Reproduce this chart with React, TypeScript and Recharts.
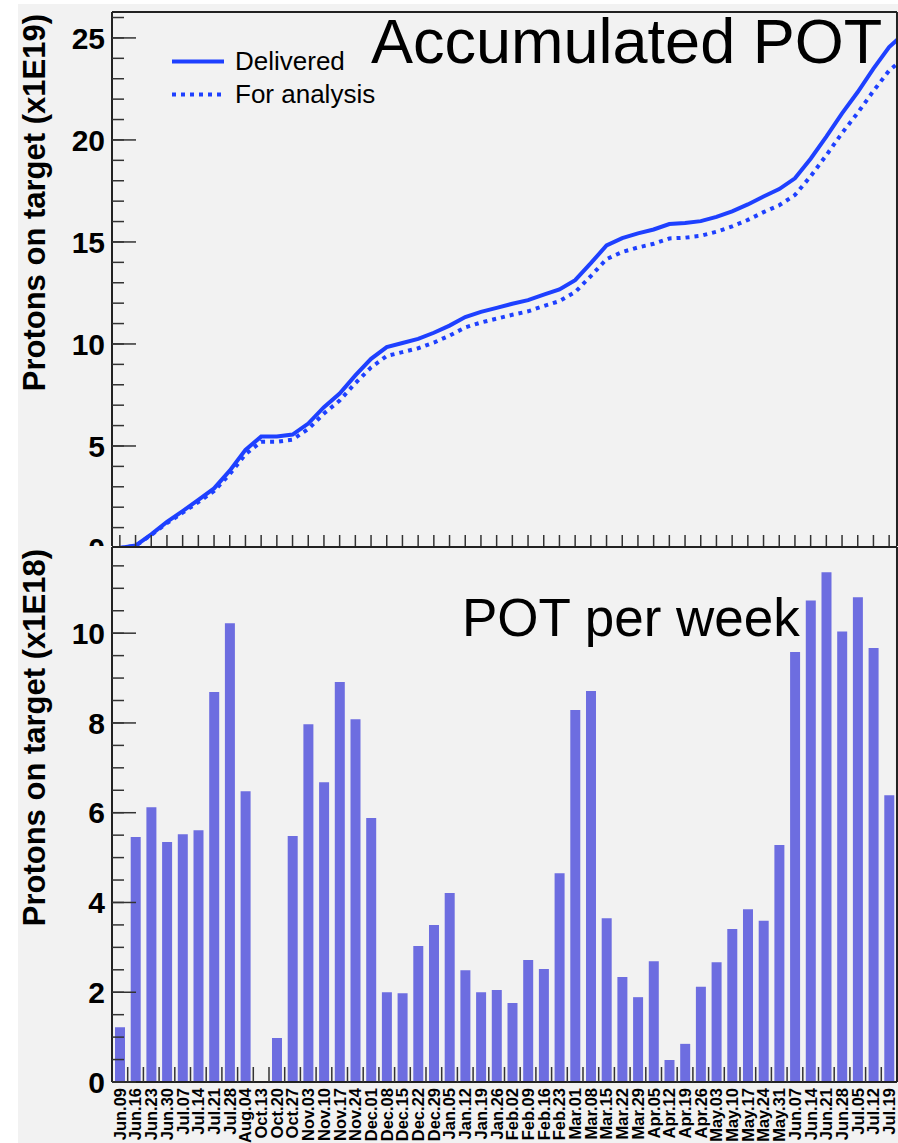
import React from "react";
import { LineChart, Line, ComposedChart, Bar, XAxis, YAxis, Legend } from "recharts";

const weeks = [
  "Jun.09", "Jun.16", "Jun.23", "Jun.30", "Jul.07", "Jul.14", "Jul.21", "Jul.28", "Aug.04", "Oct.13",
  "Oct.20", "Oct.27", "Nov.03", "Nov.10", "Nov.17", "Nov.24", "Dec.01", "Dec.08", "Dec.15", "Dec.22",
  "Dec.29", "Jan.05", "Jan.12", "Jan.19", "Jan.26", "Feb.02", "Feb.09", "Feb.16", "Feb.23", "Mar.01",
  "Mar.08", "Mar.15", "Mar.22", "Mar.29", "Apr.05", "Apr.12", "Apr.19", "Apr.26", "May.03", "May.10",
  "May.17", "May.24", "May.31", "Jun.07", "Jun.14", "Jun.21", "Jun.28", "Jul.05", "Jul.12", "Jul.19",
];

// protons on target per week (x1E18)
const potPerWeek = [
  1.22, 5.46, 6.12, 5.35, 5.52, 5.61, 8.69, 10.22, 6.48, 0,
  0.98, 5.48, 7.97, 6.68, 8.91, 8.08, 5.88, 2.0, 1.98, 3.03,
  3.5, 4.21, 2.49, 2.0, 2.05, 1.76, 2.72, 2.52, 4.65, 8.29,
  8.71, 3.65, 2.34, 1.89, 2.69, 0.49, 0.85, 2.12, 2.67, 3.41,
  3.85, 3.59, 5.28, 9.58, 10.73, 11.36, 10.04, 10.8, 9.67, 6.39,
];

// accumulated POT (x1E19), one point per week
const accDelivered = [
  0, 0.12, 0.67, 1.28, 1.81, 2.36, 2.92, 3.79, 4.81, 5.46,
  5.46, 5.56, 6.1, 6.9, 7.57, 8.46, 9.27, 9.85, 10.05, 10.25,
  10.55, 10.9, 11.32, 11.57, 11.77, 11.97, 12.15, 12.42, 12.67, 13.13,
  13.96, 14.83, 15.19, 15.42, 15.61, 15.88, 15.93, 16.02, 16.23, 16.5,
  16.84, 17.23, 17.59, 18.12, 19.08, 20.16, 21.3, 22.35, 23.5, 24.55,
  25.25,
];
const accAnalysis = [
  0, 0.11, 0.64, 1.22, 1.73, 2.25, 2.79, 3.62, 4.59, 5.21,
  5.21, 5.31, 5.83, 6.59, 7.23, 8.08, 8.85, 9.41, 9.6, 9.79,
  10.07, 10.41, 10.81, 11.05, 11.24, 11.43, 11.6, 11.86, 12.1, 12.54,
  13.33, 14.16, 14.51, 14.73, 14.91, 15.17, 15.21, 15.3, 15.5, 15.76,
  16.08, 16.46, 16.8, 17.3, 18.22, 19.25, 20.34, 21.33, 22.4, 23.4,
  24.05,
];

const accTicks = [0, 5, 10, 15, 20, 25];
const accMinorTicks = [0, 1, 2, 3, 4, 5, 6, 7, 8, 9, 10, 11, 12, 13, 14, 15, 16, 17, 18, 19, 20, 21, 22, 23, 24, 25, 26];
const weekTicks = [0, 2, 4, 6, 8, 10];
const weekMinorTicks = [0, 0.5, 1, 1.5, 2, 2.5, 3, 3.5, 4, 4.5, 5, 5.5, 6, 6.5, 7, 7.5, 8, 8.5, 9, 9.5, 10, 10.5, 11, 11.5];

const FONT = "'Liberation Sans', Arial, Helvetica, sans-serif";
const BLUE = "#1e40ff";
const BAR = "#6d6de0";
const BG = "#f2f2f2";
const frame = { stroke: "#222", strokeWidth: 2 };
const tickStroke = { stroke: "#333", strokeWidth: 1.5 };
const tickFont = { fontSize: 30, fontWeight: "bold", fill: "#000", fontFamily: FONT };
const THIN = 0.01; // axes of (almost) no size, only there for ticks and frame

const accData = accDelivered.map((v, i) => ({ pos: i + 0.5, delivered: v, analysis: accAnalysis[i] }));
const weekData = weeks.map((w, i) => ({ week: w, idx: i + 0.5, pot: potPerWeek[i] }));
const centerTicks = weeks.map((_, i) => i + 0.5);
const edgeTicks = [0, ...weeks.map((_, i) => i + 1)];

const noTick = () => <g />;

// invisible series so that the extra tick / frame axes get a domain
const ghost = { stroke: "none", dot: false, activeDot: false, legendType: "none" as const, isAnimationActive: false };

const WeekTick = (props: any) => {
  const { x, y, payload } = props;
  return (
    <text
      x={x}
      y={y}
      transform={`rotate(-90 ${x} ${y})`}
      textAnchor="end"
      dy="0.36em"
      fontSize={16.5}
      fontWeight="bold"
      fontFamily={FONT}
      fill="#000"
    >
      {payload.value}
    </text>
  );
};

const LegendBox = (props: any) => {
  const { payload = [] } = props;
  return (
    <div style={{ fontFamily: FONT, fontSize: 26, color: "#000" }}>
      {payload
        .filter((p: any) => p.type !== "none")
        .map((p: any) => (
          <div key={p.value} style={{ display: "flex", alignItems: "center", height: 33 }}>
            <svg width={69} height={33}>
              <line
                x1={6}
                x2={58}
                y1={16.5}
                y2={16.5}
                stroke={BLUE}
                strokeWidth={4}
                strokeDasharray={p.payload?.strokeDasharray}
              />
            </svg>
            <span>{p.value}</span>
          </div>
        ))}
    </div>
  );
};

export default function App() {
  return (
    <div style={{ position: "absolute", left: 0, top: 0, width: 898, height: 1143, background: "#fff", overflow: "hidden" }}>
      <div style={{ position: "absolute", left: 18, top: 4, width: 880, height: 1139, background: BG }} />

      <div style={{ position: "absolute", left: 0, top: 0 }}>
        <LineChart width={898} height={548} data={accData} margin={{ top: 12, right: 1, bottom: 0, left: 0 }}>
          <XAxis
            xAxisId="x"
            type="number"
            dataKey="pos"
            domain={[0, 50]}
            allowDataOverflow
            ticks={centerTicks}
            interval={0}
            mirror
            height={THIN}
            tick={noTick}
            tickSize={13}
            tickLine={tickStroke}
            axisLine={frame}
          />
          <XAxis xAxisId="top" orientation="top" type="number" dataKey="pos" domain={[0, 50]} allowDataOverflow height={THIN} tick={false} tickLine={false} axisLine={frame} />
          <YAxis
            yAxisId="y"
            type="number"
            domain={[0, 26.27]}
            allowDataOverflow
            ticks={accTicks}
            interval={0}
            width={112}
            tickSize={0}
            tickMargin={7}
            tickLine={false}
            tick={tickFont}
            axisLine={frame}
          />
          <YAxis yAxisId="minor" type="number" domain={[0, 26.27]} allowDataOverflow ticks={accMinorTicks} interval={0} mirror width={THIN} tick={noTick} tickSize={12} tickLine={tickStroke} axisLine={false} />
          <YAxis yAxisId="major" type="number" domain={[0, 26.27]} allowDataOverflow ticks={accTicks} interval={0} mirror width={THIN} tick={noTick} tickSize={24} tickLine={tickStroke} axisLine={false} />
          <YAxis yAxisId="right" orientation="right" type="number" domain={[0, 26.27]} allowDataOverflow width={THIN} tick={false} tickLine={false} axisLine={frame} />
          <Line xAxisId="top" yAxisId="minor" dataKey="delivered" {...ghost} />
          <Line xAxisId="x" yAxisId="major" dataKey="delivered" {...ghost} />
          <Line xAxisId="x" yAxisId="right" dataKey="delivered" {...ghost} />
          <Line xAxisId="x" yAxisId="y" type="linear" dataKey="delivered" name="Delivered" stroke={BLUE} strokeWidth={4} dot={false} isAnimationActive={false} />
          <Line xAxisId="x" yAxisId="y" type="linear" dataKey="analysis" name="For analysis" stroke={BLUE} strokeWidth={4} strokeDasharray="4 5" dot={false} isAnimationActive={false} />
          <Legend
            layout="vertical"
            align="center"
            verticalAlign="middle"
            content={<LegendBox />}
            wrapperStyle={{ left: 166, top: 45, width: 260 }}
          />
        </LineChart>
      </div>

      <div style={{ position: "absolute", left: 18, top: 546, width: 880, height: 597, background: BG }}>
        <ComposedChart width={880} height={597} data={weekData} margin={{ top: 1, right: 1, bottom: 0, left: 0 }} barSize={10}>
          <XAxis dataKey="week" interval={0} height={61} tickSize={0} tickMargin={6} tickLine={false} tick={<WeekTick />} axisLine={frame} />
          <XAxis xAxisId="edges" type="number" dataKey="idx" domain={[0, 50]} allowDataOverflow ticks={edgeTicks} interval={0} mirror height={THIN} tick={noTick} tickSize={15} tickLine={tickStroke} axisLine={false} />
          <XAxis xAxisId="top" orientation="top" type="number" dataKey="idx" domain={[0, 50]} allowDataOverflow height={THIN} tick={false} tickLine={false} axisLine={frame} />
          <YAxis
            yAxisId="y"
            type="number"
            domain={[0, 11.92]}
            allowDataOverflow
            ticks={weekTicks}
            interval={0}
            width={94}
            tickSize={0}
            tickMargin={7}
            tickLine={false}
            tick={tickFont}
            axisLine={frame}
          />
          <YAxis yAxisId="minor" type="number" domain={[0, 11.92]} allowDataOverflow ticks={weekMinorTicks} interval={0} mirror width={THIN} tick={noTick} tickSize={12} tickLine={tickStroke} axisLine={false} />
          <YAxis yAxisId="major" type="number" domain={[0, 11.92]} allowDataOverflow ticks={weekTicks} interval={0} mirror width={THIN} tick={noTick} tickSize={24} tickLine={tickStroke} axisLine={false} />
          <YAxis yAxisId="right" orientation="right" type="number" domain={[0, 11.92]} allowDataOverflow width={THIN} tick={false} tickLine={false} axisLine={frame} />
          <Bar yAxisId="y" dataKey="pot" fill={BAR} isAnimationActive={false} />
          <Line xAxisId="edges" yAxisId="minor" dataKey="pot" {...ghost} />
          <Line xAxisId="top" yAxisId="major" dataKey="pot" {...ghost} />
          <Line yAxisId="right" dataKey="pot" {...ghost} />
        </ComposedChart>
      </div>

      <svg width={898} height={1143} style={{ position: "absolute", left: 0, top: 0, pointerEvents: "none" }}>
        <text x={371} y={63} fontSize={63} fontFamily={FONT} fill="#000">Accumulated POT</text>
        <text x={462} y={636} fontSize={53} fontFamily={FONT} fill="#000">POT per week</text>
        <text x={45} y={14} transform="rotate(-90 45 14)" textAnchor="end" fontSize={31} fontWeight="bold" fontFamily={FONT} fill="#000">
          Protons on target (x1E19)
        </text>
        <text x={45} y={549} transform="rotate(-90 45 549)" textAnchor="end" fontSize={31} fontWeight="bold" fontFamily={FONT} fill="#000">
          Protons on target (x1E18)
        </text>
      </svg>
    </div>
  );
}
